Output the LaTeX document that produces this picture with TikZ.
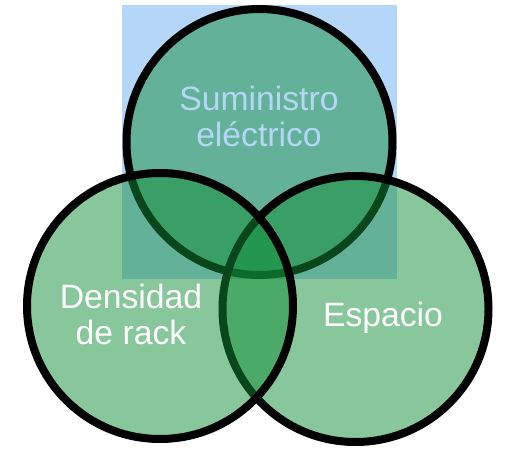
\documentclass[tikz,border=0pt]{standalone}
\usepackage{fontspec}
\setmainfont{Liberation Sans}
\definecolor{rectblue}{RGB}{180,214,249}
\definecolor{vgreen}{RGB}{17,142,56}
\definecolor{toptext}{RGB}{182,214,246}
\tikzset{
  venn/.style={circle, minimum size=266pt, inner sep=0pt, draw=black, line width=8pt, fill=vgreen, fill opacity=0.5, draw opacity=1},
  lbl/.style={font=\fontsize{33.7}{36}\selectfont, align=center, inner sep=0pt}
}
\begin{document}
\begin{tikzpicture}[x=1pt,y=-1pt]
\useasboundingbox (0,0) rectangle (512,466);
\fill[rectblue] (122,5) rectangle (397,279);
\node[venn] (top) at (259.5,142) {};
\node[venn] (right) at (355.5,309) {};
\node[venn] (left) at (160,306) {};
\node[lbl, text=toptext] (t1) at (259,116) {Suministro\\eléctrico};
\node[lbl, text=white] (t2) at (131,314) {Densidad\\de rack};
\node[lbl, text=white] (t3) at (383,318) {Espacio};
\end{tikzpicture}
\end{document}
